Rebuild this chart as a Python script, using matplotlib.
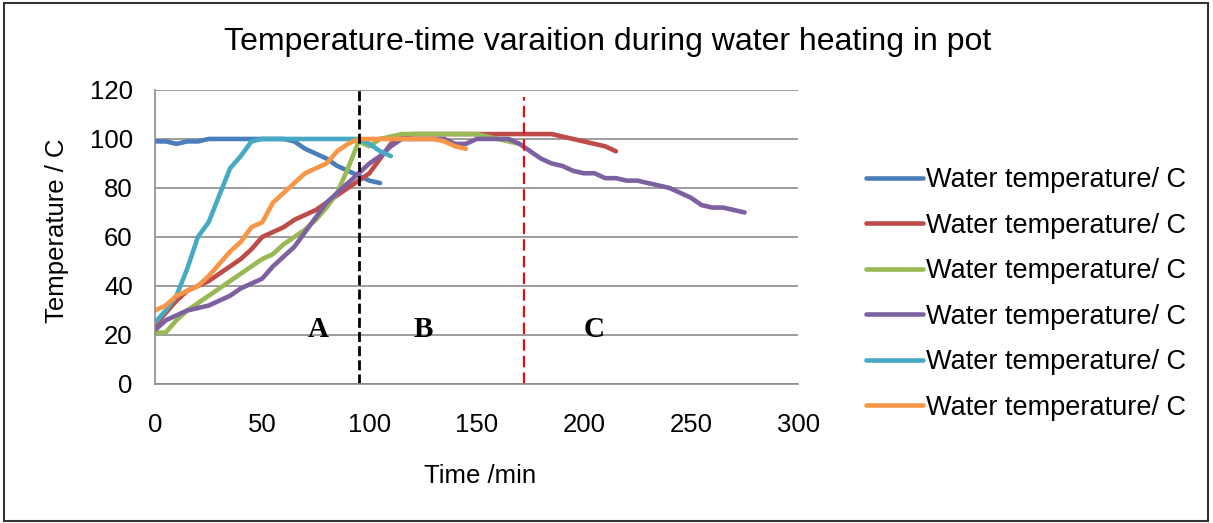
import matplotlib.pyplot as plt
from matplotlib.patches import Rectangle

plt.rcParams['font.family'] = ['Liberation Sans', 'DejaVu Sans']

# readings every 5 minutes for each pot run
time_blue = list(range(0, 110, 5))
temp_blue = [99, 99, 98, 99, 99, 100, 100, 100, 100, 100, 100, 100, 100, 99,
             96, 94, 92, 89, 87, 85, 83, 82]

time_red = list(range(0, 220, 5))
temp_red = [24, 29, 34, 38, 40, 42, 45, 48, 51, 55, 60, 62, 64, 67, 69, 71,
            74, 77, 80, 83, 86, 92, 98, 101, 102, 102, 102, 102, 102, 102,
            102, 102, 102, 102, 102, 102, 102, 102, 101, 100, 99, 98, 97, 95]

time_green = list(range(0, 175, 5))
temp_green = [21, 21, 26, 30, 33, 36, 39, 42, 45, 48, 51, 53, 57, 60, 63, 67,
              72, 78, 88, 99, 97, 100, 101, 102, 102, 102, 102, 102, 102, 102,
              102, 101, 100, 99, 98]

time_purple = list(range(0, 280, 5))
temp_purple = [22, 26, 28, 30, 31, 32, 34, 36, 39, 41, 43, 48, 52, 56, 62, 68,
               74, 78, 82, 86, 90, 93, 97, 100, 100, 100, 100, 100, 98, 98,
               100, 100, 100, 100, 98, 95, 92, 90, 89, 87, 86, 86, 84, 84, 83,
               83, 82, 81, 80, 78, 76, 73, 72, 72, 71, 70]

time_teal = list(range(0, 115, 5))
temp_teal = [25, 30, 36, 47, 60, 66, 77, 88, 93, 99, 100, 100, 100, 100, 100,
             100, 100, 100, 100, 100, 98, 95, 93]

time_orange = list(range(0, 150, 5))
temp_orange = [30, 32, 36, 38, 40, 44, 49, 54, 58, 64, 66, 74, 78, 82, 86, 88,
               90, 95, 98, 100, 100, 100, 100, 100, 100, 100, 100, 99, 97, 96]

label = "Water temperature/ C"
phase_lines = [95, 172]
phase_names = ["A", "B", "C"]
phase_x = [76, 125, 205]

fig = plt.figure(figsize=(12.13, 5.23), dpi=100)
ax = fig.add_axes([0.1278, 0.2658, 0.5302, 0.5622])

lw = 3.3
series = [
    (time_blue, temp_blue, "#4A7EBB"),
    (time_red, temp_red, "#BE4B48"),
    (time_green, temp_green, "#98B954"),
    (time_purple, temp_purple, "#7D60A0"),
    (time_teal, temp_teal, "#46AAC5"),
    (time_orange, temp_orange, "#F79646"),
]
for t, v, c in series:
    ax.plot(t, v, color=c, lw=lw, label=label, solid_capstyle='round',
            solid_joinstyle='round')

# phase boundaries
ax.plot([phase_lines[0]] * 2, [0, 120], color="black", lw=2, ls=(0, (3.6, 1.5)))
ax.plot([phase_lines[1]] * 2, [0, 117], color="red", lw=1.5, ls=(0, (5.5, 2.5)))
for name, px in zip(phase_names, phase_x):
    ax.text(px, 19.3, name, ha="center", va="baseline", fontsize=21,
            fontweight="bold", family="Liberation Serif")

ax.set_xlim(0, 300)
ax.set_ylim(0, 120)
ax.set_xticks(range(0, 301, 50))
ax.set_yticks(range(0, 121, 20))
ax.tick_params(length=0, labelsize=18.5)
ax.tick_params(axis="y", pad=16)
ax.tick_params(axis="x", pad=21)
ax.grid(axis="y", color="#8c8c8c", lw=1.2)
ax.set_axisbelow(True)
for s in ["top", "right"]:
    ax.spines[s].set_visible(False)
for s in ["left", "bottom"]:
    ax.spines[s].set_color("#8c8c8c")
    ax.spines[s].set_linewidth(1.2)

fig.text(480 / 1213, 1 - 476 / 523, "Time /min", fontsize=18.5, ha="center", va="center")
fig.text(57 / 1213, 1 - 231 / 523, "Temperature / C", fontsize=18.5, ha="center",
         va="center", rotation=90)
fig.text(608 / 1213, 1 - 42 / 523, "Temperature-time varaition during water heating in pot",
         fontsize=23, ha="center", va="center")

ax.legend(loc="center left", bbox_to_anchor=(866 / 1213, 1 - 294 / 523),
          bbox_transform=fig.transFigure, frameon=False, fontsize=19.5,
          handlelength=2.1, handletextpad=0.11, labelspacing=0.72, borderpad=0,
          borderaxespad=0)

fig.patches.append(Rectangle((0.003, 0.004), 0.993, 0.99, transform=fig.transFigure,
                             fill=False, edgecolor="#333333", lw=1.5))

fig.savefig("out.png", dpi=100)
